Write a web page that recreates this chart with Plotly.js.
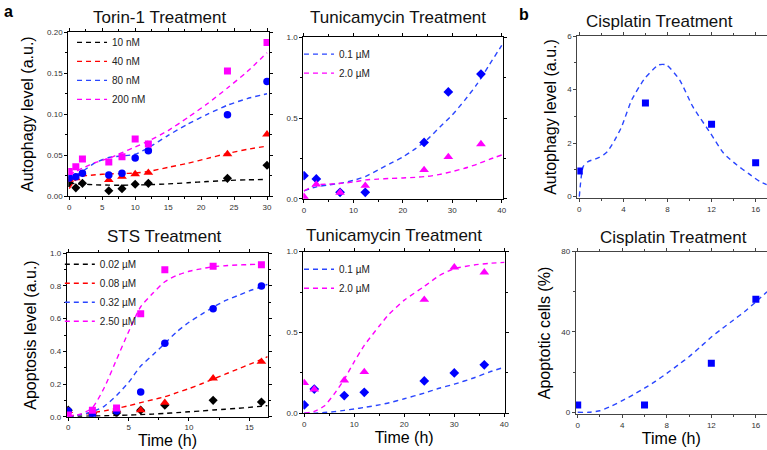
<!DOCTYPE html>
<html>
<head>
<meta charset="utf-8">
<script src="https://cdn.plot.ly/plotly-3.0.1.min.js"></script>
<style>html,body{margin:0;padding:0;background:#fff;}#chart{width:767px;height:450px;}</style>
</head>
<body>
<div id="chart"></div>
<script>
// ---------- Torin-1 (autophagy) ----------
const torinX = [0, 1, 2, 6, 8, 10, 12, 24, 30];
const torin10 = [0.016, 0.010, 0.0155, 0.0065, 0.009, 0.0143, 0.0155, 0.0216, 0.0375];
const torin40 = [0.020, 0.022, 0.027, 0.0196, 0.0236, 0.0269, 0.0285, 0.0513, 0.0754];
const torin80 = [0.022, 0.0236, 0.0277, 0.0257, 0.0277, 0.0464, 0.0554, 0.0994, 0.140];
const torin200 = [0.030, 0.0358, 0.0452, 0.0415, 0.048, 0.0697, 0.0635, 0.1527, 0.1874];
const torinFitX = [0, 1, 2, 4, 6, 8, 10, 12, 15, 18, 21, 24, 27, 30];
const torinFit10 = [0.016, 0.015, 0.0145, 0.0137, 0.0133, 0.0132, 0.0134, 0.0138, 0.0148, 0.0162, 0.0177, 0.019, 0.0198, 0.0202];
const torinFit40 = [0.009, 0.020, 0.024, 0.026, 0.027, 0.0275, 0.028, 0.030, 0.035, 0.040, 0.046, 0.052, 0.057, 0.061];
const torinFit80 = [0.018, 0.025, 0.030, 0.041, 0.047, 0.049, 0.051, 0.059, 0.074, 0.088, 0.100, 0.111, 0.119, 0.125];
const torinFit200 = [0.026, 0.030, 0.034, 0.041, 0.046, 0.053, 0.060, 0.067, 0.080, 0.096, 0.113, 0.132, 0.152, 0.175];
const torinLabels = ["10 nM", "40 nM", "80 nM", "200 nM"];

// ---------- Tunicamycin (autophagy) ----------
const tunAX = [0, 2.5, 7.3, 12.4, 24.3, 29.2, 35.8];
const tunA01 = [0.144, 0.124, 0.041, 0.041, 0.35, 0.662, 0.773];
const tunA20 = [0.014, 0.09, 0.04, 0.082, 0.18, 0.26, 0.34];
const tunAFitX = [0, 2.5, 5, 7.5, 10, 12.5, 15, 17.5, 20, 22.5, 25, 27.5, 30, 32.5, 35, 37.5, 40];
const tunAFit01 = [0.05, 0.075, 0.087, 0.098, 0.115, 0.14, 0.18, 0.22, 0.26, 0.31, 0.37, 0.445, 0.52, 0.61, 0.71, 0.83, 0.95];
const tunAFit20 = [0.05, 0.088, 0.092, 0.097, 0.105, 0.118, 0.123, 0.127, 0.13, 0.134, 0.14, 0.152, 0.17, 0.19, 0.215, 0.245, 0.272];
const tunLabels = ["0.1 µM", "2.0 µM"];

// ---------- Cisplatin (autophagy) ----------
const cisAX = [0, 6, 12, 16];
const cisA = [0.96, 3.5, 2.7, 1.27];
const cisAFitX = [0, 0.35, 0.8, 1.6, 2.2, 2.55, 3.2, 3.85, 4.75, 5.95, 7.2, 7.9, 9.1, 10.3, 11.9, 13.1, 14.3, 15.4, 16.4, 17];
const cisAFit = [0, 1.12, 1.31, 1.43, 1.56, 1.68, 2.1, 2.62, 3.61, 4.42, 4.92, 4.92, 4.36, 3.36, 2.37, 1.62, 1.18, 0.85, 0.56, 0.45];

// ---------- STS (apoptosis) ----------
const stsX = [0, 2, 4, 6, 8, 12, 16];
const sts002 = [0.04, 0.022, 0.022, 0.04, 0.07, 0.10, 0.09];
const sts008 = [0.035, 0.027, 0.04, 0.04, 0.086, 0.235, 0.337];
const sts032 = [0.035, 0.01, 0.035, 0.151, 0.45, 0.66, 0.80];
const sts250 = [0.01, 0.04, 0.053, 0.63, 0.90, 0.92, 0.93];
const stsFitX = [0, 1, 2, 3, 4, 5, 6, 7, 8, 9, 10, 11, 12, 13, 14, 15, 16, 16.5];
const stsFit002 = [0.002, 0.003, 0.004, 0.006, 0.008, 0.010, 0.013, 0.016, 0.020, 0.025, 0.030, 0.035, 0.041, 0.046, 0.051, 0.057, 0.064, 0.068];
const stsFit008 = [0.004, 0.013, 0.024, 0.036, 0.050, 0.067, 0.086, 0.104, 0.122, 0.147, 0.172, 0.200, 0.230, 0.260, 0.290, 0.320, 0.350, 0.367];
const stsFit032 = [0, 0.012, 0.03, 0.065, 0.13, 0.21, 0.31, 0.378, 0.449, 0.52, 0.578, 0.625, 0.67, 0.71, 0.74, 0.77, 0.795, 0.81];
const stsFit250 = [0.003, 0.015, 0.055, 0.18, 0.35, 0.52, 0.673, 0.755, 0.826, 0.865, 0.89, 0.905, 0.918, 0.924, 0.928, 0.931, 0.933, 0.934];
const stsLabels = ["0.02 µM", "0.08 µM", "0.32 µM", "2.50 µM"];

// ---------- Tunicamycin (apoptosis) ----------
const tunPX = [0, 2, 8, 12, 24, 30, 36];
const tunP01 = [0.052, 0.15, 0.11, 0.13, 0.20, 0.25, 0.30];
const tunP20 = [0.188, 0.148, 0.204, 0.256, 0.703, 0.903, 0.872];
const tunPFitX = [0, 2, 4, 6, 8, 10, 12, 15, 17, 20, 24, 27, 30, 34, 37, 40];
const tunPFit01 = [0, 0, 0.005, 0.01, 0.018, 0.027, 0.036, 0.052, 0.065, 0.09, 0.125, 0.155, 0.18, 0.22, 0.255, 0.285];
const tunPFit20 = [0, 0.012, 0.045, 0.12, 0.21, 0.32, 0.42, 0.54, 0.615, 0.70, 0.785, 0.852, 0.895, 0.918, 0.928, 0.934];

// ---------- Cisplatin (apoptosis) ----------
const cisPX = [0, 6, 12, 16];
const cisP = [3.65, 3.65, 24.4, 56.3];
const cisPFitX = [0, 1, 2, 3, 4, 5, 6, 7, 8, 9, 10, 11, 12, 13, 14, 15, 16, 17];
const cisPFit = [0, 0, 0.8, 3, 5.8, 8.8, 12, 15.5, 19.4, 23.5, 27.7, 32.5, 37.5, 41.8, 46, 50.2, 55, 60];

// ---------- styles ----------
const BLACK = '#000000', RED = '#ff0000', BLUE = '#0000ff', MAG = '#ff00ff';
const LBLUE = '#2a46ff';
const DASH = '5px,4px';

const traces = [];
function addSeries(xa, ya, px, py, fx, fy, color, lineColor, symbol, size, name, legend) {
  traces.push({x: fx, y: fy, mode: 'lines', name: name, xaxis: xa, yaxis: ya,
    line: {color: lineColor, width: 1.4, dash: DASH, shape: 'spline', smoothing: 0.6},
    showlegend: !!name, legend: legend, hoverinfo: 'skip'});
  traces.push({x: px, y: py, mode: 'markers', xaxis: xa, yaxis: ya, showlegend: false,
    marker: {color: color, symbol: symbol, size: size, line: {width: 0}}});
}
// Torin
const torinSets = [torin10, torin40, torin80, torin200];
const torinFits = [torinFit10, torinFit40, torinFit80, torinFit200];
const cols = [BLACK, RED, BLUE, MAG];
const lcols = [BLACK, RED, LBLUE, MAG];
const syms = ['diamond', 'triangle-up', 'circle', 'square'];
const sizes = [7, 8.5, 7.5, 7];
for (let i = 0; i < 4; i++) addSeries('x', 'y', torinX, torinSets[i], torinFitX, torinFits[i], cols[i], lcols[i], syms[i], sizes[i], torinLabels[i], 'legend');
// Tunicamycin autophagy
addSeries('x2', 'y2', tunAX, tunA01, tunAFitX, tunAFit01, BLUE, LBLUE, 'diamond', 7.5, tunLabels[0], 'legend2');
addSeries('x2', 'y2', tunAX, tunA20, tunAFitX, tunAFit20, MAG, MAG, 'triangle-up', 8.5, tunLabels[1], 'legend2');
// Cisplatin autophagy
addSeries('x3', 'y3', cisAX, cisA, cisAFitX, cisAFit, BLUE, LBLUE, 'square', 7, null, 'legend');
// STS
const stsSets = [sts002, sts008, sts032, sts250];
const stsFits = [stsFit002, stsFit008, stsFit032, stsFit250];
for (let i = 0; i < 4; i++) addSeries('x4', 'y4', stsX, stsSets[i], stsFitX, stsFits[i], cols[i], lcols[i], syms[i], sizes[i], stsLabels[i], 'legend3');
// Tunicamycin apoptosis
addSeries('x5', 'y5', tunPX, tunP01, tunPFitX, tunPFit01, BLUE, LBLUE, 'diamond', 7.5, tunLabels[0], 'legend4');
addSeries('x5', 'y5', tunPX, tunP20, tunPFitX, tunPFit20, MAG, MAG, 'triangle-up', 8.5, tunLabels[1], 'legend4');
// Cisplatin apoptosis
addSeries('x6', 'y6', cisPX, cisP, cisPFitX, cisPFit, BLUE, LBLUE, 'square', 7, null, 'legend');

const FONT = 'Arial, "Liberation Sans", Helvetica, sans-serif';
function ax(domain, range, dtick, fmt, minorDtick, color, extra) {
  const a = {
    domain: domain, range: range, dtick: dtick, tick0: 0, tickformat: fmt,
    showline: true, linecolor: color, linewidth: 1, mirror: 'allticks',
    ticks: 'outside', ticklen: 3, tickwidth: 1, tickcolor: color,
    tickfont: {size: 8, color: '#333', family: FONT},
    showgrid: false, zeroline: false, fixedrange: true, automargin: false,
    minor: {dtick: minorDtick, ticks: 'outside', ticklen: 2, tickcolor: color, showgrid: false}
  };
  return Object.assign(a, extra || {});
}
const ttl = (t, so) => ({text: t, font: {size: 16, family: FONT, color: '#000'}, standoff: so});

const legBase = {bgcolor: 'rgba(0,0,0,0)', borderwidth: 0, font: {size: 10, family: FONT, color: '#222'},
  xanchor: 'left', yanchor: 'top', tracegroupgap: 0, itemwidth: 30};

const layout = {
  width: 767, height: 450, margin: {l: 0, r: 0, t: 0, b: 0},
  paper_bgcolor: '#fff', plot_bgcolor: '#fff', font: {family: FONT},
  showlegend: true,
  xaxis: ax([0.0890, 0.3507], [-0.15, 30.3], 5, 'd', 2.5, '#000', {anchor: 'y'}),
  yaxis: ax([0.5644, 0.9282], [0, 0.2], 0.05, '.2f', 0.025, '#000', {anchor: 'x', title: ttl('Autophagy level (a.u.)', 9)}),
  xaxis2: ax([0.3954, 0.6558], [-0.14, 40.26], 10, 'd', 5, '#000', {anchor: 'y2'}),
  yaxis2: ax([0.5578, 0.9171], [0, 1], 0.5, '.1f', 0.25, '#000', {anchor: 'x2'}),
  xaxis3: ax([0.7527, 1], [-0.18, 17.03], 4, 'd', 2, '#444', {anchor: 'y3'}),
  yaxis3: ax([0.56, 0.92], [-0.05, 6], 2, 'd', 1, '#444', {anchor: 'x3', title: ttl('Autophagy level (a.u.)', 6)}),
  xaxis4: ax([0.08696, 0.3498], [-0.13, 16.57], 5, 'd', 2.5, '#000', {anchor: 'y4', title: ttl('Time (h)', 0)}),
  yaxis4: ax([0.074, 0.4371], [0, 1], 0.2, '.1f', 0.1, '#000', {anchor: 'x4', title: ttl('Apoptosis level (a.u.)', 9)}),
  xaxis5: ax([0.3954, 0.6584], [-0.2, 40.14], 10, 'd', 5, '#000', {anchor: 'y5', title: ttl('Time (h)', 0)}),
  yaxis5: ax([0.0816, 0.4407], [0, 1], 0.5, '.1f', 0.25, '#000', {anchor: 'x5'}),
  xaxis6: ax([0.7506, 1], [-0.18, 17.0], 4, 'd', 2, '#444', {anchor: 'y6', title: ttl('Time (h)', 0)}),
  yaxis6: ax([0.0793, 0.4407], [-1, 80], 40, 'd', 20, '#444', {anchor: 'x6', title: ttl('Apoptotic cells (%)', 6)}),
  legend: Object.assign({}, legBase, {x: 0.0939, y: 0.938}),
  legend2: Object.assign({}, legBase, {x: 0.3898, y: 0.912}),
  legend3: Object.assign({}, legBase, {x: 0.078, y: 0.445}),
  legend4: Object.assign({}, legBase, {x: 0.3898, y: 0.434}),
  annotations: [
    {text: 'Torin-1 Treatment', x: 159 / 767, y: 1 - 17 / 450},
    {text: 'Tunicamycin Treatment', x: 398 / 767, y: 1 - 17 / 450},
    {text: 'Cisplatin Treatment', x: 659 / 767, y: 1 - 22 / 450},
    {text: 'STS Treatment', x: 164.5 / 767, y: 1 - 237 / 450},
    {text: 'Tunicamycin Treatment', x: 394 / 767, y: 1 - 235 / 450},
    {text: 'Cisplatin Treatment', x: 673 / 767, y: 1 - 237.5 / 450}
  ].map(a => Object.assign({xref: 'paper', yref: 'paper', showarrow: false, xanchor: 'center', yanchor: 'middle',
        font: {size: 17, family: FONT, color: '#111'}}, a))
    .concat([
      {text: '<b>a</b>', x: 8 / 767, y: 1 - 11 / 450, xref: 'paper', yref: 'paper', showarrow: false,
       xanchor: 'center', yanchor: 'middle', font: {size: 16, family: FONT, color: '#000'}},
      {text: '<b>b</b>', x: 524 / 767, y: 1 - 15 / 450, xref: 'paper', yref: 'paper', showarrow: false,
       xanchor: 'center', yanchor: 'middle', font: {size: 16, family: FONT, color: '#000'}}
    ])
};

Plotly.newPlot('chart', traces, layout, {displayModeBar: false, staticPlot: true});
</script>
</body>
</html>
